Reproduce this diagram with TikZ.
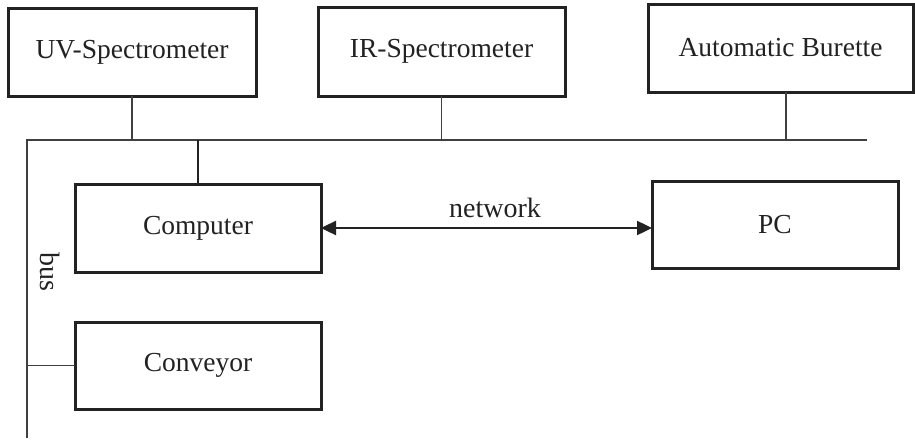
\documentclass[tikz,border=0pt]{standalone}
\usepackage{fontspec}
\setmainfont{Liberation Serif}
\usetikzlibrary{arrows.meta,calc}
\definecolor{ink}{HTML}{222222}
\definecolor{wire}{HTML}{404040}
\begin{document}
\begin{tikzpicture}[x=1pt,y=-1pt,
  box/.style={draw=ink,line width=3pt,inner sep=0pt,outer sep=0pt,
    font=\fontsize{27.5}{30}\selectfont,text=ink},
  thinwire/.style={draw=wire,line width=1.3pt},
  thickwire/.style={draw=ink,line width=2.4pt},
  lbl/.style={font=\fontsize{28}{30}\selectfont,text=ink,inner sep=0pt}]
\useasboundingbox (0,0) rectangle (915,439);
\node[box,minimum width=248pt,minimum height=88pt] (uv) at (132,52) {UV-Spectrometer};
\node[box,minimum width=247pt,minimum height=89pt] (ir) at (441.5,51.5) {IR-Spectrometer};
\node[box,minimum width=265pt,minimum height=88pt] (ab) at (780.5,48) {Automatic Burette};
\node[box,minimum width=246pt,minimum height=88pt] (comp) at (198,228) {Computer};
\node[box,minimum width=246pt,minimum height=87pt] (conv) at (198,365.5) {Conveyor};
\node[box,minimum width=246pt,minimum height=87pt] (pc) at (775,224.5) {PC};
\coordinate (busTL) at (27,140);
\coordinate (busR) at (867,140);
\coordinate (busB) at (27,438);
\coordinate (abj) at (786,140);
\draw[thinwire] (busR) -- (busTL) -- (busB);
\draw[thinwire] (uv.south) -- (uv.south |- busTL);
\draw[thinwire] (ir.south) -- (ir.south |- busTL);
\draw[thinwire] (abj |- ab.south) -- (abj);
\draw[thickwire] (comp.north) -- (comp.north |- busTL);
\draw[thinwire] (conv.west) -- (conv.west -| busTL);
\draw[thickwire,{Triangle[length=15pt,width=14pt]}-{Triangle[length=15pt,width=14pt]}] (comp.east) -- (comp.east -| pc.west);
\node[lbl] (net) at (495,208) {network};
\node[lbl,rotate=-90] (bus) at (50,272) {bus};
\end{tikzpicture}
\end{document}
